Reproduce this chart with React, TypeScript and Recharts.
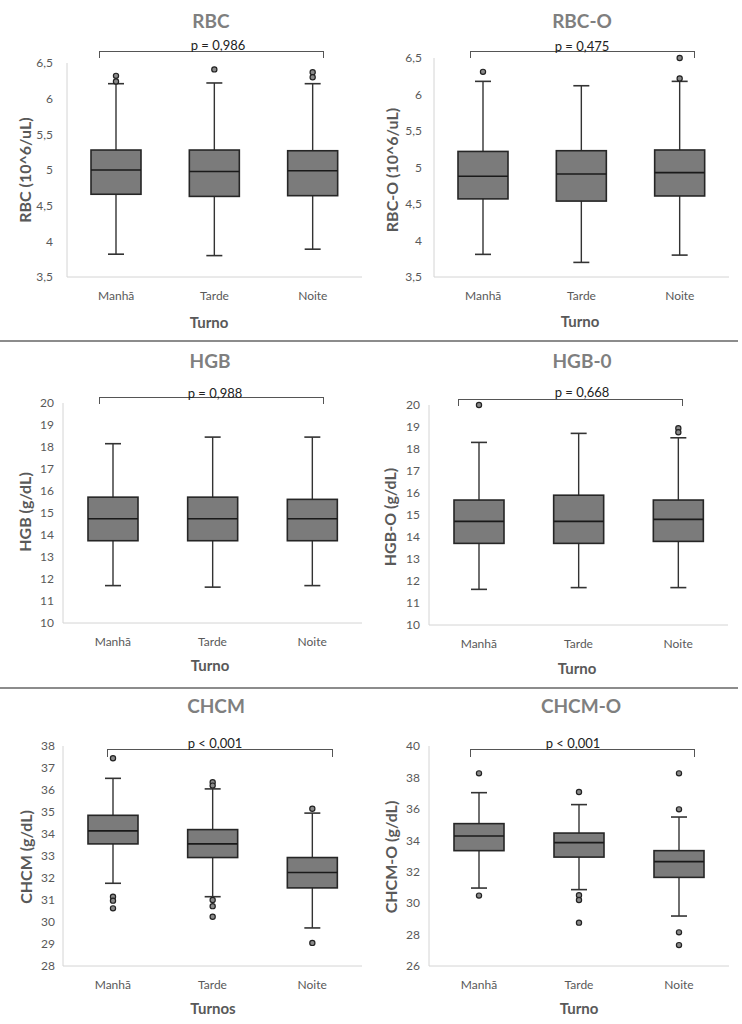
import { ComposedChart, Bar, XAxis, YAxis } from "recharts";

const turnos = ["Manhã", "Tarde", "Noite"];

// [min, q1, mediana, q3, max] por turno
const rbcBox = [
  [3.82, 4.66, 5.0, 5.28, 6.21],
  [3.8, 4.63, 4.98, 5.28, 6.22],
  [3.89, 4.64, 4.99, 5.27, 6.21],
];
const rbcOut = [[6.32, 6.24], [6.41], [6.37, 6.3]];
const rbcTicks = [3.5, 4, 4.5, 5, 5.5, 6, 6.5];

const rbcoBox = [
  [3.81, 4.57, 4.88, 5.22, 6.18],
  [3.7, 4.54, 4.91, 5.23, 6.12],
  [3.8, 4.61, 4.93, 5.24, 6.18],
];
const rbcoOut = [[6.31], [], [6.5, 6.22]];

const hgbBox = [
  [11.7, 13.74, 14.74, 15.72, 18.15],
  [11.63, 13.74, 14.74, 15.72, 18.45],
  [11.7, 13.74, 14.74, 15.62, 18.45],
];
const hgbOut = [[], [], []];
const hgbTicks = [10, 11, 12, 13, 14, 15, 16, 17, 18, 19, 20];

const hgboBox = [
  [11.62, 13.71, 14.71, 15.68, 18.3],
  [11.7, 13.71, 14.71, 15.9, 18.71],
  [11.7, 13.8, 14.8, 15.68, 18.51],
];
const hgboOut = [[20.0], [], [18.94, 18.76]];

const chcmBox = [
  [31.76, 33.55, 34.14, 34.85, 36.53],
  [31.15, 32.93, 33.55, 34.2, 36.05],
  [29.73, 31.55, 32.25, 32.93, 34.95],
];
const chcmOut = [
  [37.44, 31.15, 30.97, 30.62],
  [36.35, 36.2, 31.0, 30.72, 30.24],
  [35.15, 29.05],
];
const chcmTicks = [28, 29, 30, 31, 32, 33, 34, 35, 36, 37, 38];

const chcmoBox = [
  [30.96, 33.34, 34.27, 35.06, 37.03],
  [30.86, 32.93, 33.85, 34.46, 36.27],
  [29.18, 31.64, 32.64, 33.34, 35.48],
];
const chcmoOut = [
  [38.26, 30.48],
  [37.07, 30.5, 30.2, 28.76],
  [38.26, 35.97, 28.14, 27.33],
];
const chcmoTicks = [26, 28, 30, 32, 34, 36, 38, 40];

const FONT = "Lato, 'Open Sans', sans-serif";

function BoxShape(props: any) {
  const { x, y, width, height, payload } = props;
  const top = Math.min(y, y + height);
  const h = Math.abs(height);
  const per = h / (payload.max - payload.min);
  const toY = (v: number) => top + (payload.max - v) * per;
  const cx = x + width / 2;
  const cap = 8;
  return (
    <g>
      <line x1={cx} x2={cx} y1={toY(payload.max)} y2={toY(payload.min)} stroke="#333" strokeWidth={1.4} />
      <line x1={cx - cap} x2={cx + cap} y1={toY(payload.max)} y2={toY(payload.max)} stroke="#333" strokeWidth={1.6} />
      <line x1={cx - cap} x2={cx + cap} y1={toY(payload.min)} y2={toY(payload.min)} stroke="#333" strokeWidth={1.6} />
      <rect
        x={x}
        y={toY(payload.q3)}
        width={width}
        height={toY(payload.q1) - toY(payload.q3)}
        fill="#7b7b7b"
        stroke="#262626"
        strokeWidth={1.6}
      />
      <line x1={x} x2={x + width} y1={toY(payload.med)} y2={toY(payload.med)} stroke="#1a1a1a" strokeWidth={1.6} />
      {payload.out.map((v: number, i: number) => (
        <circle key={i} cx={cx} cy={toY(v)} r={2.6} fill="#8a8a8a" stroke="#222" strokeWidth={1.2} />
      ))}
    </g>
  );
}

type PanelProps = {
  left: number;
  top: number;
  title: string;
  pText: string;
  yLabel: string;
  xLabel: string;
  box: number[][];
  out: number[][];
  ticks: number[];
  tickGap: number;
  plot: [number, number, number, number]; // x0, x1, y0, y1
  titlePos: [number, number];
  pPos: [number, number];
  bracket: [number, number, number, number]; // x0, x1, y, drop
  yLabelPos: [number, number];
  xLabelPos: [number, number];
};

function Panel(p: PanelProps) {
  const data = turnos.map((t, i) => ({
    name: t,
    min: p.box[i][0],
    q1: p.box[i][1],
    med: p.box[i][2],
    q3: p.box[i][3],
    max: p.box[i][4],
    out: p.out[i],
  }));
  const [x0, x1, y0, y1] = p.plot;
  const fmt = (v: number) => String(v).replace(".", ",");
  const abs = (x: number, y: number): React.CSSProperties => ({
    position: "absolute",
    left: x,
    top: y,
    transform: "translate(-50%, -50%)",
    whiteSpace: "nowrap",
  });

  return (
    <div style={{ position: "absolute", left: p.left, top: p.top, width: 371, height: 344 }}>
      <ComposedChart
        width={371}
        height={y1 + 30}
        data={data}
        margin={{ top: y0, right: 371 - x1, left: 0, bottom: 0 }}
      >
        <XAxis
          dataKey="name"
          height={30}
          axisLine={{ stroke: "#d4d4d4" }}
          tickLine={false}
          tickMargin={8}
          tick={{ fontSize: 12, fill: "#595959" }}
        />
        <YAxis
          type="number"
          width={x0}
          domain={[p.ticks[0], p.ticks[p.ticks.length - 1]]}
          ticks={p.ticks}
          interval={0}
          axisLine={{ stroke: "#d4d4d4" }}
          tickLine={false}
          tickMargin={p.tickGap}
          tickFormatter={fmt}
          tick={{ fontSize: 12, fill: "#595959" }}
        />
        <Bar dataKey={(d: any) => [d.min, d.max]} barSize={50} shape={BoxShape} isAnimationActive={false} />
      </ComposedChart>

      <div style={{ ...abs(p.titlePos[0], p.titlePos[1]), fontSize: 19, fontWeight: 700, color: "#7f7f7f" }}>
        {p.title}
      </div>
      <div
        style={{
          position: "absolute",
          left: p.bracket[0],
          top: p.bracket[2],
          width: p.bracket[1] - p.bracket[0],
          height: p.bracket[3],
          borderTop: "1.5px solid #555",
          borderLeft: "1.5px solid #555",
          borderRight: "1.5px solid #555",
          boxSizing: "border-box",
        }}
      />
      <div style={{ ...abs(p.pPos[0], p.pPos[1]), fontSize: 13, color: "#222" }}>{p.pText}</div>
      <div
        style={{
          ...abs(p.yLabelPos[0], p.yLabelPos[1]),
          transform: "translate(-50%, -50%) rotate(-90deg)",
          fontSize: 16,
          fontWeight: 700,
          color: "#595959",
        }}
      >
        {p.yLabel}
      </div>
      <div style={{ ...abs(p.xLabelPos[0], p.xLabelPos[1]), fontSize: 15, fontWeight: 700, color: "#595959" }}>
        {p.xLabel}
      </div>
    </div>
  );
}

export default function App() {
  return (
    <div
      style={{
        position: "absolute",
        left: 0,
        top: 0,
        width: 742,
        height: 1024,
        background: "#fff",
        fontFamily: FONT,
        overflow: "hidden",
      }}
    >
      <Panel
        left={0}
        top={0}
        title="RBC"
        pText="p = 0,986"
        yLabel="RBC (10^6/uL)"
        xLabel="Turno"
        box={rbcBox}
        out={rbcOut}
        ticks={rbcTicks}
        tickGap={8}
        plot={[67, 362, 63, 277]}
        titlePos={[211, 20]}
        pPos={[218, 45]}
        bracket={[99, 324, 51, 7]}
        yLabelPos={[24, 170]}
        xLabelPos={[209, 322]}
      />
      <Panel
        left={371}
        top={0}
        title="RBC-O"
        pText="p = 0,475"
        yLabel="RBC-O (10^6/uL)"
        xLabel="Turno"
        box={rbcoBox}
        out={rbcoOut}
        ticks={rbcTicks}
        tickGap={6}
        plot={[63, 358, 58, 277]}
        titlePos={[211, 20]}
        pPos={[211, 46]}
        bracket={[99, 324, 51, 7]}
        yLabelPos={[20, 170]}
        xLabelPos={[209, 321]}
      />
      <div style={{ position: "absolute", left: 0, top: 340, width: 738, height: 2, background: "#8c8c8c" }} />
      <Panel
        left={0}
        top={340}
        title="HGB"
        pText="p = 0,988"
        yLabel="HGB (g/dL)"
        xLabel="Turno"
        box={hgbBox}
        out={hgbOut}
        ticks={hgbTicks}
        tickGap={3}
        plot={[63, 362, 63, 283]}
        titlePos={[210, 20]}
        pPos={[215, 53]}
        bracket={[99, 324, 57, 7]}
        yLabelPos={[24, 172]}
        xLabelPos={[210, 325]}
      />
      <Panel
        left={371}
        top={340}
        title="HGB-0"
        pText="p = 0,668"
        yLabel="HGB-O (g/dL)"
        xLabel="Turno"
        box={hgboBox}
        out={hgboOut}
        ticks={hgbTicks}
        tickGap={3}
        plot={[58, 357, 65, 285]}
        titlePos={[211, 20]}
        pPos={[211, 52]}
        bracket={[87, 312, 59, 7]}
        yLabelPos={[18, 177]}
        xLabelPos={[206, 328]}
      />
      <div style={{ position: "absolute", left: 0, top: 687, width: 738, height: 2, background: "#8c8c8c" }} />
      <Panel
        left={0}
        top={680}
        title="CHCM"
        pText="p < 0,001"
        yLabel="CHCM (g/dL)"
        xLabel="Turnos"
        box={chcmBox}
        out={chcmOut}
        ticks={chcmTicks}
        tickGap={2}
        plot={[63, 362, 66, 286]}
        titlePos={[216, 25]}
        pPos={[215, 63]}
        bracket={[107, 333, 69, 8]}
        yLabelPos={[25, 177]}
        xLabelPos={[213, 328]}
      />
      <Panel
        left={371}
        top={680}
        title="CHCM-O"
        pText="p < 0,001"
        yLabel="CHCM-O (g/dL)"
        xLabel="Turno"
        box={chcmoBox}
        out={chcmoOut}
        ticks={chcmoTicks}
        tickGap={3}
        plot={[58, 358, 66, 286]}
        titlePos={[210, 25]}
        pPos={[202, 63]}
        bracket={[99, 324, 69, 8]}
        yLabelPos={[19, 177]}
        xLabelPos={[208, 328]}
      />
    </div>
  );
}
